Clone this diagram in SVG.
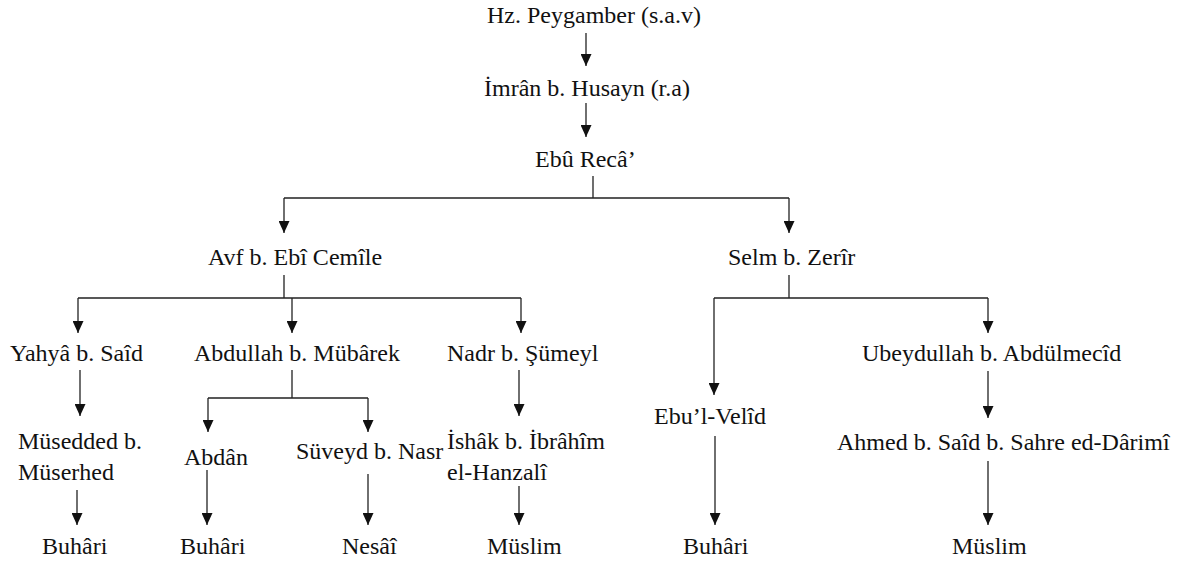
<svg xmlns="http://www.w3.org/2000/svg" width="1181" height="561" viewBox="0 0 1181 561" font-family="'Liberation Serif', 'Times New Roman', serif">
  <style>
    text { font-family: "Liberation Serif", "Times New Roman", serif; font-size: 24px; fill: #111; }
    .ln { fill: none; stroke: #222; stroke-width: 1.3; }
    .ar { fill: none; stroke: #222; stroke-width: 1.3; marker-end: url(#head); }
  </style>
  <defs>
    <!-- filled triangular head, drawn along +x so orient="auto" turns it down the line -->
    <marker id="head" viewBox="0 0 12 11" refX="12" refY="5.5" markerWidth="12" markerHeight="11" markerUnits="userSpaceOnUse" orient="auto">
      <path d="M0,0 L12,5.5 L0,11 Z" fill="#111"/>
    </marker>
  </defs>
  <rect width="1181" height="561" fill="#fff"/>

  <!-- connectors -->
  <g id="connectors">
    <path class="ar" d="M586,33 V66"/>
    <path class="ar" d="M586,103 V137"/>
    <!-- Ebû Recâ' fork -->
    <path class="ln" d="M593,176 V198 M284,198 H789"/>
    <path class="ar" d="M284,198 V233"/>
    <path class="ar" d="M789,198 V233"/>
    <!-- Avf b. Ebî Cemîle fork -->
    <path class="ln" d="M284,275 V298 M78,298 H521"/>
    <path class="ar" d="M78,298 V333"/>
    <path class="ar" d="M292,298 V333"/>
    <path class="ar" d="M521,298 V333"/>
    <!-- Selm b. Zerîr fork -->
    <path class="ln" d="M789,275 V298 M714,298 H988"/>
    <path class="ar" d="M988,298 V333"/>
    <path class="ar" d="M714,298 V395"/>
    <!-- third level -->
    <path class="ar" d="M80,370 V416"/>
    <path class="ln" d="M292,370 V398 M208,398 H368"/>
    <path class="ar" d="M208,398 V432"/>
    <path class="ar" d="M368,398 V432"/>
    <path class="ar" d="M519,370 V416"/>
    <path class="ar" d="M988,371 V418"/>
    <!-- to the collections -->
    <path class="ar" d="M77,490 V525"/>
    <path class="ar" d="M207,470 V525"/>
    <path class="ar" d="M368,474 V525"/>
    <path class="ar" d="M519,486 V525"/>
    <path class="ar" d="M715,436 V525"/>
    <path class="ar" d="M988,461 V525"/>
  </g>

  <g id="n-peygamber"><text x="487" y="23">Hz. Peygamber (s.a.v)</text></g>
  <g id="n-imran"><text x="484" y="96">İmrân b. Husayn (r.a)</text></g>
  <g id="n-ebureca"><text x="535" y="167">Ebû Recâ’</text></g>

  <g id="n-avf"><text x="208" y="265">Avf b. Ebî Cemîle</text></g>
  <g id="n-selm"><text x="728" y="265">Selm b. Zerîr</text></g>

  <g id="n-yahya"><text x="10" y="361">Yahyâ b. Saîd</text></g>
  <g id="n-abdullah"><text x="194" y="361">Abdullah b. Mübârek</text></g>
  <g id="n-nadr"><text x="447" y="361">Nadr b. Şümeyl</text></g>
  <g id="n-ubeydullah"><text x="862" y="361">Ubeydullah b. Abdülmecîd</text></g>

  <g id="n-ebulvelid"><text x="654" y="424">Ebu’l-Velîd</text></g>
  <g id="n-musedded"><text x="18" y="449">Müsedded b.</text><text x="18" y="480">Müserhed</text></g>
  <g id="n-abdan"><text x="184" y="465">Abdân</text></g>
  <g id="n-suveyd"><text x="296" y="459">Süveyd b. Nasr</text></g>
  <g id="n-ishak"><text x="447" y="449">İshâk b. İbrâhîm</text><text x="447" y="480">el-Hanzalî</text></g>
  <g id="n-ahmed"><text x="837" y="450">Ahmed b. Saîd b. Sahre ed-Dârimî</text></g>

  <g id="n-buhari-1"><text x="42" y="554">Buhâri</text></g>
  <g id="n-buhari-2"><text x="180" y="554">Buhâri</text></g>
  <g id="n-nesai"><text x="342" y="554">Nesâî</text></g>
  <g id="n-muslim-1"><text x="487" y="554">Müslim</text></g>
  <g id="n-buhari-3"><text x="683" y="554">Buhâri</text></g>
  <g id="n-muslim-2"><text x="952" y="554">Müslim</text></g>
</svg>
